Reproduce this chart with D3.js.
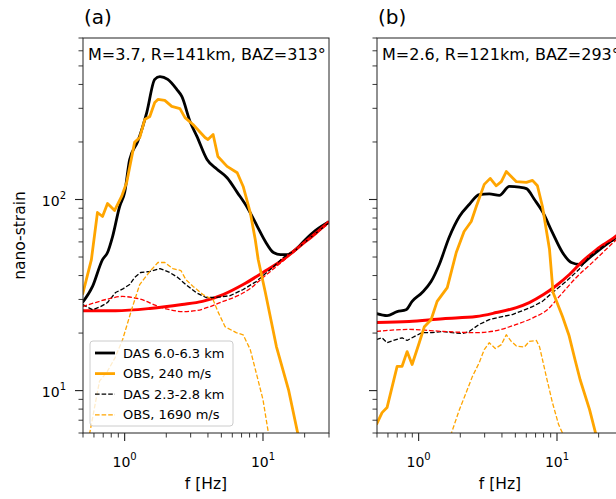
<!DOCTYPE html>
<html>
<head>
<meta charset="utf-8">
<script src="https://cdn.jsdelivr.net/npm/d3@7"></script>
<style>
  body { margin: 0; background: #fff; }
  text { font-family: "DejaVu Sans", sans-serif; fill: #000; }
</style>
</head>
<body>
<svg id="chart" width="616" height="499"></svg>
<script>
// DATA  [frequency Hz, nano-strain]
// panel (a)
const dasFarA = [[0.496,28.9],[0.586,35.1],[0.692,48.5],[0.752,52.8],[0.818,64.0],[0.92,91.9],[1.0,108.8],[1.087,162],[1.243,201],[1.444,285],[1.65,425],[1.80,440],[2.05,425],[2.38,377],[2.59,346],[2.97,256],[3.33,214],[3.94,162],[4.65,144],[5.50,130],[6.51,109],[7.70,90.8],[9.11,72.2],[10.4,60.3],[11.9,52.8],[13.4,51.5],[15.0,51.5],[17.2,54.7],[20.3,61.8],[24.0,68.9],[30,76.5]];
const obs240A = [[0.496,31.8],[0.575,48.5],[0.636,85.5],[0.692,81.5],[0.752,95.3],[0.846,87.6],[0.951,103.7],[1.034,122.7],[1.18,199],[1.285,211],[1.397,262],[1.52,272],[1.65,322],[1.74,334],[1.95,330],[2.19,307],[2.51,299],[2.73,268],[3.12,247],[3.81,211],[4.00,206],[4.36,219],[4.72,168],[5.50,149],[6.51,138],[7.19,117],[8.09,85.5],[8.79,61.8],[9.23,48.5],[10.4,32.6],[12.5,17.0],[15.3,10.1],[17.9,5.9]];
const dasNearA = [[0.496,28.2],[0.586,26.5],[0.670,27.5],[0.752,28.9],[0.860,32.6],[0.98,34.2],[1.087,35.9],[1.18,39.1],[1.306,41.5],[1.52,42.0],[1.80,43.5],[2.12,41.5],[2.42,39.1],[2.77,35.9],[3.28,32.6],[3.87,30.7],[4.58,30.7],[5.79,31.4],[7.19,33.8],[8.93,37.2],[11.3,43.0],[14.0,49.7],[17.4,54.7],[22.0,63.3],[30,75.5]];
const obs1690A = [[0.557,5.9],[0.658,11.2],[0.75,12.6],[0.85,14.8],[0.967,18.5],[1.14,27.5],[1.285,35.9],[1.52,42.0],[1.74,46.8],[1.95,46.8],[2.23,43.5],[2.55,42.5],[2.77,38.1],[3.12,35.1],[3.68,31.8],[4.36,29.9],[4.72,25.9],[5.32,21.6],[6.40,20.1],[7.19,19.6],[8.09,16.4],[8.93,12.4],[10.0,8.97],[10.9,6.1],[11.2,5.5]];
const noiseFarA = [[0.496,26.2],[0.86,26.2],[1.52,26.9],[2.6,28.2],[3.65,29.3],[5.15,31.8],[7.19,35.9],[10.0,41.5],[14.0,48.5],[18.7,57.4],[24.0,66.4],[30,76.7]];
const noiseNearA = [[0.496,27.5],[0.616,28.9],[0.778,30.3],[0.967,31.1],[1.14,30.7],[1.34,29.9],[1.68,27.9],[2.12,26.5],[2.63,25.9],[3.28,26.2],[4.14,27.5],[5.15,29.3],[6.40,31.1],[8.09,34.2],[10.0,39.1],[12.5,44.6],[15.8,51.5],[22.0,63.3],[30,74.9]];

// panel (b)
const dasFarB = [[0.495,25.3],[0.591,24.7],[0.699,25.9],[0.811,26.5],[0.897,29.3],[1.06,32.6],[1.23,37.2],[1.41,45.7],[1.66,63.3],[1.97,81.5],[2.32,94.2],[2.74,106],[3.24,107],[3.83,105],[4.53,117],[5.35,116],[6.01,114],[6.87,100],[7.85,86.5],[9.27,67.1],[10.96,52.8],[12.7,46.8],[14.7,45.7],[17.2,49.7],[20.3,54.7],[26.5,63.3],[30,68]];
const obs240B = [[0.495,6.64],[0.544,7.67],[0.591,8.15],[0.699,13.4],[0.759,13.4],[0.825,16.0],[0.897,13.7],[1.01,17.8],[1.10,21.6],[1.23,23.5],[1.36,29.3],[1.61,34.6],[1.87,52.8],[2.13,68.0],[2.40,76.7],[2.61,91.9],[2.98,120],[3.29,129],[3.64,118],[3.96,124],[4.30,140],[5.09,124],[6.01,123],[6.65,126],[7.22,118],[7.85,91.9],[8.83,54.7],[9.37,32.6],[10.96,24.4],[12.2,19.5],[13.5,14.5],[14.7,11.4],[17.2,7.95],[19.0,6.0],[20,5.4]];
const dasNearB = [[0.495,18.5],[0.544,18.9],[0.591,17.8],[0.687,18.5],[0.759,18.9],[0.825,18.3],[0.959,19.4],[1.06,20.1],[1.25,20.1],[1.48,20.4],[1.75,20.1],[2.07,19.9],[2.32,20.4],[2.74,22.2],[3.24,23.5],[4.02,24.4],[4.76,25.0],[5.63,26.2],[6.65,27.5],[7.85,29.3],[9.27,32.6],[11.6,37.2],[14.4,43.0],[17.2,50.3],[21.4,56.8],[26.5,61.8],[30,66]];
const obs1690B = [[1.70,5.8],[1.97,7.95],[2.21,9.8],[2.44,11.8],[2.74,14.0],[2.98,16.4],[3.24,17.8],[3.58,16.6],[3.96,17.4],[4.30,19.6],[4.67,18.1],[5.09,17.1],[5.81,16.9],[6.31,18.1],[7.10,18.3],[7.49,16.9],[8.38,11.8],[9.27,8.65],[10.27,6.64],[10.96,6.0],[11.3,5.6]];
const noiseFarB = [[0.495,22.7],[0.853,23.0],[1.50,23.8],[2.61,24.4],[3.64,25.6],[5.09,27.2],[6.31,28.9],[7.99,31.8],[9.90,35.5],[12.3,40.5],[15.2,47.3],[19.3,54.7],[26.5,64.0],[30,69]];
const noiseNearB = [[0.495,20.4],[0.853,20.9],[1.50,20.4],[2.61,20.1],[3.64,20.6],[5.09,22.2],[6.76,24.1],[8.52,26.5],[10.4,31.1],[13.8,39.1],[18.3,47.3],[26.5,61.0],[30,66]];

// ticks and labels
const xMajor = [1, 10];
const xMinor = [0.5, 0.6, 0.7, 0.8, 0.9, 2, 3, 4, 5, 6, 7, 8, 9, 20, 30];
const yMajor = [10, 100];
const yMinor = [6, 7, 8, 9, 20, 30, 40, 50, 60, 70, 80, 90, 200, 300, 400, 500, 600, 700];
const legendLabels = ["DAS 6.0-6.3 km", "OBS, 240 m/s", "DAS 2.3-2.8 km", "OBS, 1690 m/s"];

const panels = [
  { left: 83, tag: "(a)", note: "M=3.7, R=141km, BAZ=313°",
    far: dasFarA, obs: obs240A, near: dasNearA, obsHi: obs1690A, nFar: noiseFarA, nNear: noiseNearA },
  { left: 377, tag: "(b)", note: "M=2.6, R=121km, BAZ=293°",
    far: dasFarB, obs: obs240B, near: dasNearB, obsHi: obs1690B, nFar: noiseFarB, nNear: noiseNearB }
];

// CANVAS SETUP
const svg = d3.select("#chart");
const marginTop = 38, height = 395, width = 246;

const x = d3.scaleLog().domain([0.5, 30]).range([0, width]);
const y = d3.scaleLog().domain([6, 700]).range([height, 0]);

const smooth = d3.line().x(d => x(d[0])).y(d => y(d[1])).curve(d3.curveMonotoneX);
const jagged = d3.line().x(d => x(d[0])).y(d => y(d[1]));

const styles = {
  far:   { color: "#000", w: 2.8, dash: null, line: smooth },
  nFar:  { color: "#ff0000", w: 3, dash: null, line: smooth },
  near:  { color: "#000", w: 1.3, dash: "4.6,2", line: jagged },
  nNear: { color: "#ff0000", w: 1.3, dash: "4.6,2", line: smooth },
  obs:   { color: "#ffa500", w: 2.8, dash: null, line: jagged },
  obsHi: { color: "#ffa500", w: 1.3, dash: "4.6,2", line: jagged }
};

function superLabel(sel, exp) {
  sel.append("tspan").text("10");
  sel.append("tspan").attr("font-size", 10).attr("dy", -7).text(exp);
}

panels.forEach((p, i) => {
  const g = svg.append("g").attr("transform", `translate(${p.left},${marginTop})`);

  g.append("clipPath").attr("id", "clip" + i)
    .append("rect").attr("width", width).attr("height", height);

  const plot = g.append("g").attr("clip-path", `url(#clip${i})`);
  ["far", "nFar", "near", "nNear", "obs", "obsHi"].forEach(k => {
    const s = styles[k];
    plot.append("path")
      .attr("d", s.line(p[k]))
      .attr("fill", "none")
      .attr("stroke", s.color)
      .attr("stroke-width", s.w)
      .attr("stroke-dasharray", s.dash)
      .attr("stroke-linejoin", "round");
  });

  // frame
  g.append("rect").attr("x", 0).attr("y", 0).attr("width", width).attr("height", height)
    .attr("fill", "none").attr("stroke", "#222").attr("stroke-width", 1);

  // x ticks
  g.selectAll(".xminor").data(xMinor).join("line")
    .attr("x1", d => x(d)).attr("x2", d => x(d))
    .attr("y1", height).attr("y2", height + 4.5)
    .attr("stroke", "#222").attr("stroke-width", 0.9);
  g.selectAll(".xmajor").data(xMajor).join("line")
    .attr("x1", d => x(d)).attr("x2", d => x(d))
    .attr("y1", height).attr("y2", height + 8)
    .attr("stroke", "#222").attr("stroke-width", 1.1);
  xMajor.forEach(d => {
    g.append("text").attr("x", x(d)).attr("y", height + 34)
      .attr("text-anchor", "middle").attr("font-size", 14)
      .call(superLabel, Math.round(Math.log10(d)));
  });

  // y ticks
  g.selectAll(".yminor").data(yMinor).join("line")
    .attr("x1", -4.5).attr("x2", 0)
    .attr("y1", d => y(d)).attr("y2", d => y(d))
    .attr("stroke", "#222").attr("stroke-width", 0.9);
  g.selectAll(".ymajor").data(yMajor).join("line")
    .attr("x1", -8).attr("x2", 0)
    .attr("y1", d => y(d)).attr("y2", d => y(d))
    .attr("stroke", "#222").attr("stroke-width", 1.1);
  if (i === 0) {
    yMajor.forEach(d => {
      g.append("text").attr("x", -17).attr("y", y(d) + 6.5)
        .attr("text-anchor", "end").attr("font-size", 14)
        .call(superLabel, Math.round(Math.log10(d)));
    });
    g.append("text")
      .attr("transform", `translate(${25 - p.left},${height / 2})rotate(-90)`)
      .attr("text-anchor", "middle").attr("font-size", 15.5)
      .text("nano-strain");
  }

  g.append("text").attr("x", width / 2).attr("y", 489 - marginTop)
    .attr("text-anchor", "middle").attr("font-size", 15.5).text("f [Hz]");

  g.append("text").attr("x", 1).attr("y", 24 - marginTop)
    .attr("font-size", 20).text(p.tag);
  g.append("text").attr("x", 5).attr("y", 22)
    .attr("font-size", 16).text(p.note);

  // LEGEND
  if (i === 0) {
    const lg = g.append("g").attr("transform", `translate(${90 - p.left},${341 - marginTop})`);
    lg.append("rect").attr("width", 143).attr("height", 85).attr("rx", 3)
      .attr("fill", "rgba(255,255,255,0.8)").attr("stroke", "#ccc").attr("stroke-width", 1);
    const keys = ["far", "obs", "near", "obsHi"];
    keys.forEach((k, j) => {
      const s = styles[k];
      const cy = 12 + j * 20.6;
      lg.append("line").attr("x1", 5).attr("x2", 25).attr("y1", cy).attr("y2", cy)
        .attr("stroke", s.color).attr("stroke-width", s.w)
        .attr("stroke-dasharray", s.dash);
      lg.append("text").attr("x", 33).attr("y", cy + 4.6)
        .attr("font-size", 13).text(legendLabels[j]);
    });
  }
});
</script>
</body>
</html>
